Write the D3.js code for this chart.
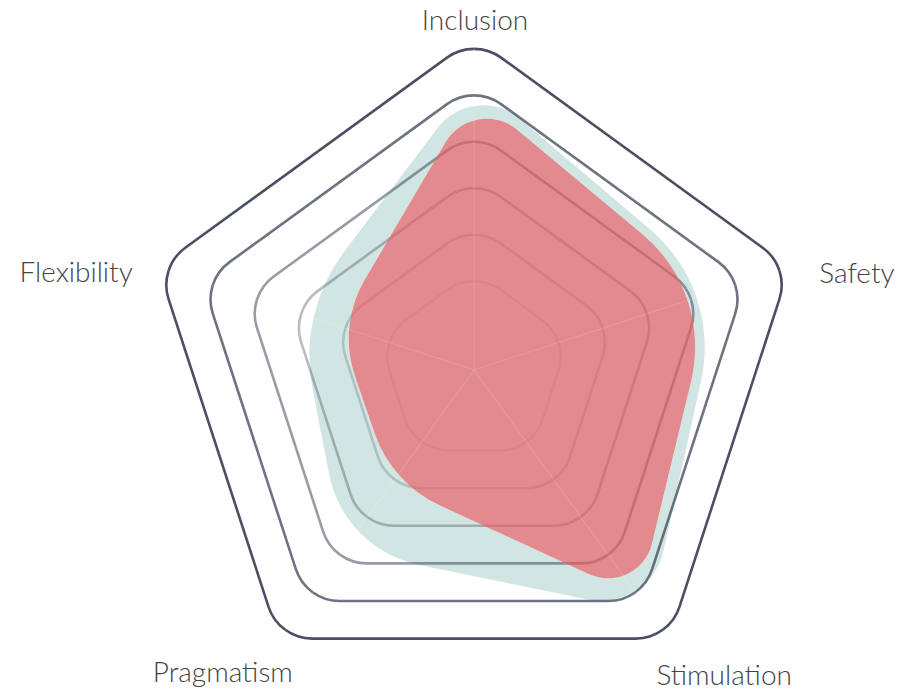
<!DOCTYPE html>
<html><head><meta charset="utf-8">
<script src="https://cdn.jsdelivr.net/npm/d3@7"></script>
<style>
html,body{margin:0;padding:0;background:#fff;}
svg{display:block;}
</style></head><body>
<svg id="chart" width="920" height="692"></svg>
<script>
// ---- data ----
const axes = ["Inclusion", "Safety", "Stimulation", "Pragmatism", "Flexibility"];
const ringLevels = [1, 2, 3, 4, 5, 6];
const seriesNames = ["Series A", "Series B"];
const tealValues = [5.1, 4.45, 5.3, 3.63, 2.84];
const redValues = [4.8, 4.25, 4.9, 1.87, 1.94];

// ---- layout ----
const cx = 474, cy = 370, R = 332;
const svg = d3.select("#chart");
const defs = svg.append("defs");
const g = svg.append("g").attr("transform", `translate(${cx},${cy})`);
const r = d3.scaleLinear().domain([0, 6]).range([R * 0.16, R]);
const angle = d3.scaleLinear().domain([0, axes.length]).range([-Math.PI / 2, 1.5 * Math.PI]);
const pt = (i, v) => [Math.cos(angle(i)) * r(v), Math.sin(angle(i)) * r(v)];

// rounded polygon: fixed radius (mode "r") or cut as fraction of edges with capped inset (mode "f")
function roundedPath(pts, amount, mode, maxInset) {
  const n = pts.length, p = d3.path();
  const corners = pts.map((P, i) => {
    const A = pts[(i - 1 + n) % n], B = pts[(i + 1) % n];
    let ux = A[0] - P[0], uy = A[1] - P[1], wx = B[0] - P[0], wy = B[1] - P[1];
    const lu = Math.hypot(ux, uy), lw = Math.hypot(wx, wy);
    ux /= lu; uy /= lu; wx /= lw; wy /= lw;
    const th = Math.acos(Math.max(-1, Math.min(1, ux * wx + uy * wy)));
    const h = th / 2;
    let rr;
    if (mode === "f") {
      const d0 = amount * Math.min(lu, lw);
      rr = d0 * Math.tan(h);
      const insetFactor = 1 / Math.sin(h) - 1;
      if (rr * insetFactor > maxInset) rr = maxInset / insetFactor;
    } else {
      rr = amount;
    }
    let d = rr / Math.tan(h);
    d = Math.min(d, lu * 0.48, lw * 0.48);
    rr = d * Math.tan(h);
    return {s: [P[0] + ux * d, P[1] + uy * d], e: [P[0] + wx * d, P[1] + wy * d], rr};
  });
  p.moveTo(corners[0].s[0], corners[0].s[1]);
  corners.forEach((c, i) => {
    p.lineTo(c.s[0], c.s[1]);
    p.arcTo(pts[i][0], pts[i][1], c.e[0], c.e[1], c.rr);
  });
  p.closePath();
  return p.toString();
}

const redPath = roundedPath(redValues.map((v, i) => pt(i, v)), 0.32, "f", 26);
const tealPath = roundedPath(tealValues.map((v, i) => pt(i, v)), 0.32, "f", 26);

const mask = defs.append("mask").attr("id", "noRed")
  .attr("maskUnits", "userSpaceOnUse").attr("x", -cx).attr("y", -cy).attr("width", 920).attr("height", 692);
mask.append("rect").attr("x", -cx).attr("y", -cy).attr("width", 920).attr("height", 692).attr("fill", "#fff");
mask.append("path").attr("d", redPath).attr("fill", "#000");

const ringOpacity = d3.scaleOrdinal().domain(ringLevels).range([0.14, 0.25, 0.38, 0.57, 0.8, 1]);

// teal blob (under rings, not under red)
g.append("path")
  .attr("d", tealPath)
  .attr("fill", "#d1e6e2")
  .attr("mask", "url(#noRed)");

// rings
g.selectAll("path.ring").data(ringLevels).join("path")
  .attr("class", "ring")
  .attr("d", lv => roundedPath(axes.map((a, i) => pt(i, lv)), 46, "r"))
  .attr("fill", "none")
  .attr("stroke", "#4a5062")
  .attr("stroke-opacity", lv => ringOpacity(lv))
  .attr("stroke-width", 2.6);

// red blob (over rings)
g.append("path")
  .attr("d", redPath)
  .attr("fill", "#d75d61")
  .attr("fill-opacity", 0.72);

// axis lines
g.selectAll("line.axis").data(axes).join("line")
  .attr("class", "axis")
  .attr("x1", 0).attr("y1", 0)
  .attr("x2", (a, i) => pt(i, 6)[0])
  .attr("y2", (a, i) => pt(i, 6)[1])
  .attr("stroke", "#fff")
  .attr("stroke-opacity", 0.14)
  .attr("stroke-width", 1.2);

// labels
const labelNudge = [[1, 49], [4, 26], [16, -17], [-17, -20], [-19, 25]];
g.selectAll("text.lbl").data(axes).join("text")
  .attr("class", "lbl")
  .attr("x", (a, i) => pt(i, 6)[0] * 1.2 + labelNudge[i][0])
  .attr("y", (a, i) => pt(i, 6)[1] * 1.2 + labelNudge[i][1])
  .attr("dy", "0.35em")
  .attr("text-anchor", "middle")
  .style("font-family", "Lato, 'Open Sans', sans-serif")
  .style("font-weight", 300)
  .style("font-size", "28px")
  .attr("fill", "#444")
  .text(d => d);
</script>
</body></html>
